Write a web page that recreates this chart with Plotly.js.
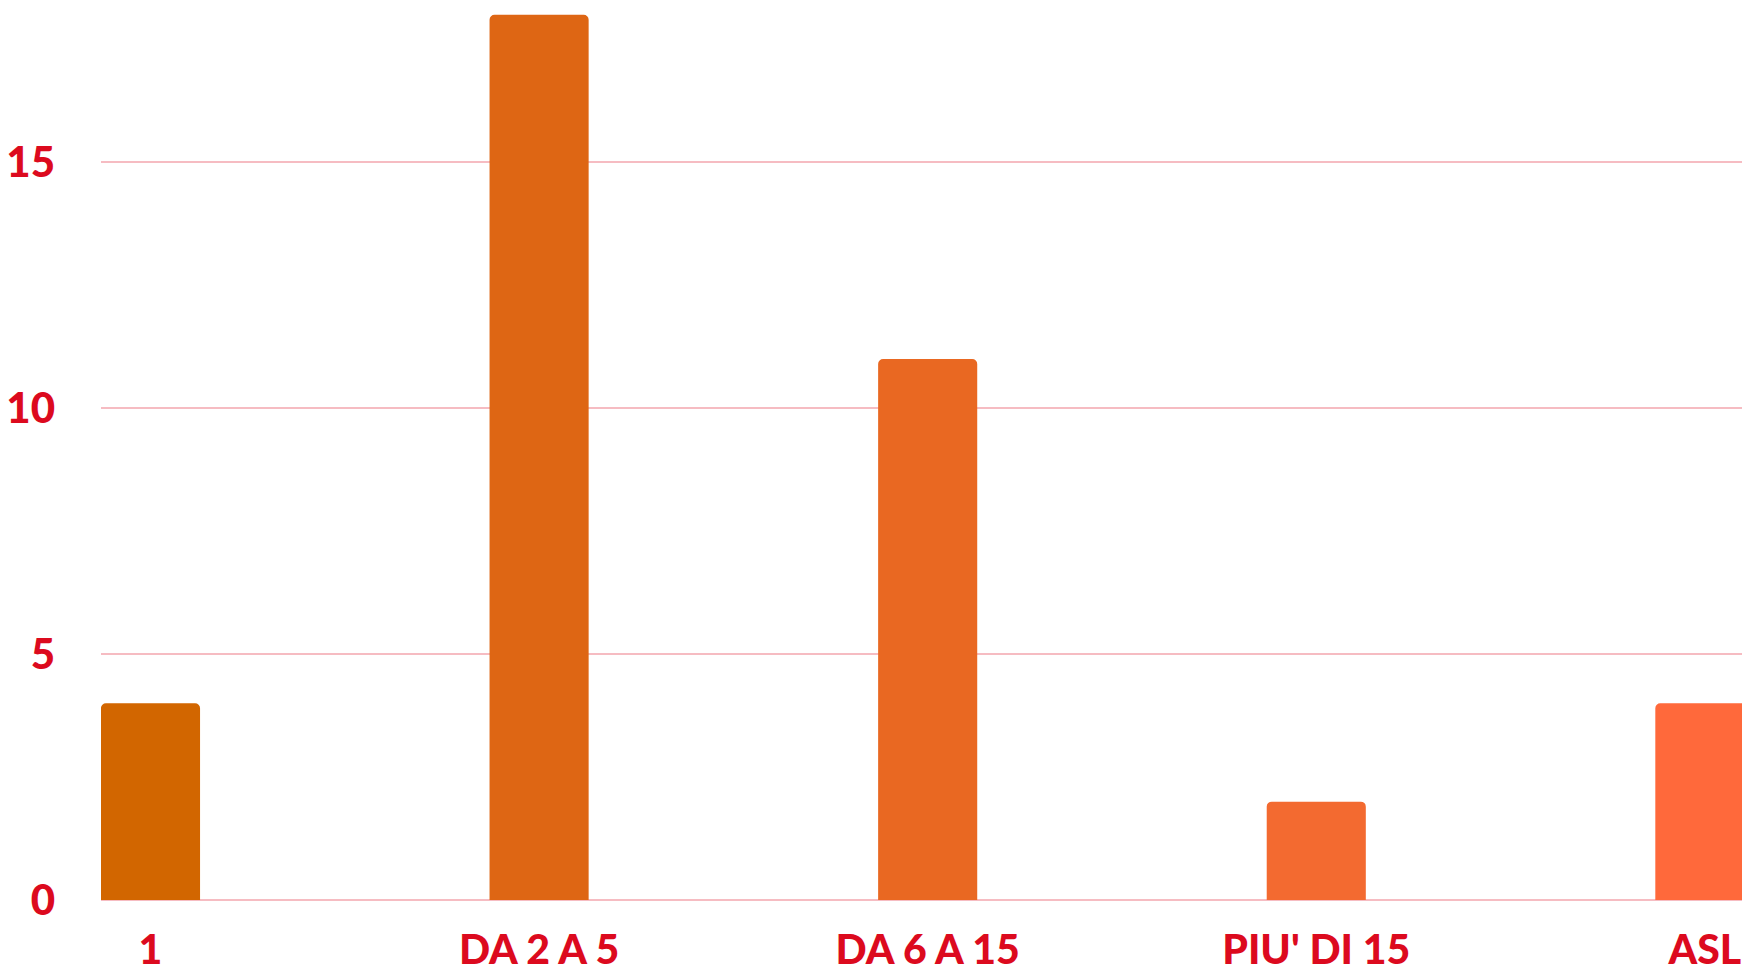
<!DOCTYPE html>
<html>
<head>
<meta charset="utf-8">
<script src="https://cdn.plot.ly/plotly-3.0.1.min.js"></script>
<style>
html,body{margin:0;padding:0;background:#fff;}
#chart{width:1742px;height:974px;}
</style>
</head>
<body>
<div id="chart"></div>
<script>
const categories = ["1", "DA 2 A 5", "DA 6 A 15", "PIU' DI 15", "ASL"];
const values = [4, 18, 11, 2, 4];
const barColors = ["#D26600", "#DE6614", "#E96822", "#F36A30", "#FF693B"];
const yTickVals = [0, 5, 10, 15];
const yTickText = ["0", "5", "10", "15"];

const textColor = "#DC0A1E";
const gridColor = "#F6BCC2";

const trace = {
  type: "bar",
  x: categories,
  y: values,
  marker: { color: barColors, cornerradius: 5, line: { width: 0 } },
  hoverinfo: "x+y"
};

const layout = {
  width: 1742,
  height: 974,
  margin: { l: 101, r: 0, t: 0, b: 74, pad: 0 },
  paper_bgcolor: "#ffffff",
  plot_bgcolor: "#ffffff",
  bargap: 0.745,
  showlegend: false,
  font: { family: "Lato, 'Open Sans', sans-serif", color: textColor },
  xaxis: {
    type: "category",
    range: [-0.1274, 4.0956],
    showgrid: false,
    showline: false,
    zeroline: false,
    ticks: "",
    tickfont: { family: "Lato, sans-serif", size: 41, color: textColor, weight: 900 },
    ticklabelstandoff: 22
  },
  yaxis: {
    range: [0, 18.3],
    tickmode: "array",
    tickvals: yTickVals,
    ticktext: yTickText,
    showgrid: true,
    gridcolor: gridColor,
    gridwidth: 2,
    zeroline: true,
    zerolinecolor: gridColor,
    zerolinewidth: 2,
    showline: false,
    ticks: "",
    tickfont: { family: "Lato, sans-serif", size: 42, color: textColor, weight: 900 },
    ticklabelstandoff: 45
  }
};

Plotly.newPlot("chart", [trace], layout, { displayModeBar: false, staticPlot: true });
</script>
</body>
</html>
